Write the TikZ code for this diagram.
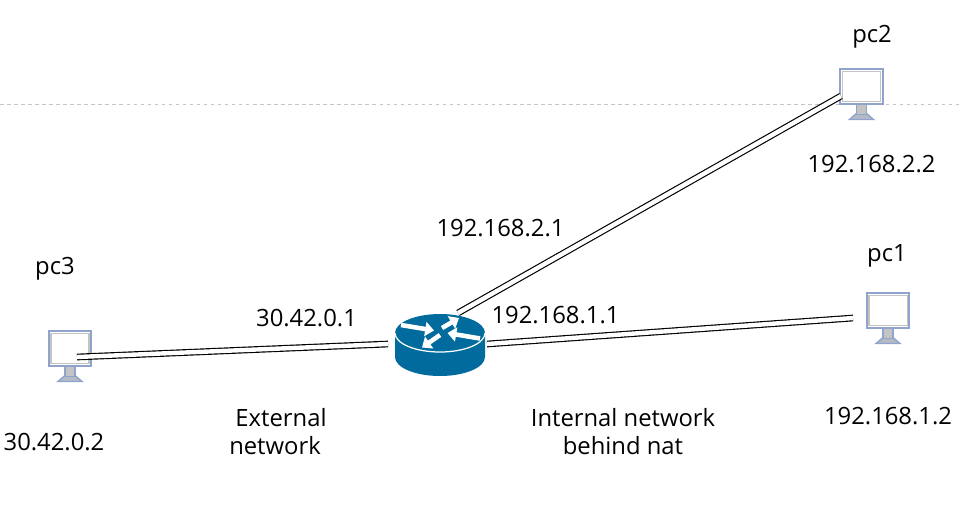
\documentclass[tikz,border=0pt]{standalone}
\usepackage{fontspec}
\setmainfont{Open Sans}
\usetikzlibrary{arrows.meta}
\definecolor{routerBlue}{HTML}{006B9C}
\definecolor{screenEdge}{HTML}{8FA3CC}
\definecolor{screenGray}{HTML}{C4C4C4}
\tikzset{caption/.style={font=\fontsize{13.55}{15.9}\selectfont, align=center, inner sep=0pt, text=black}}
\tikzset{link/.style={draw=black, line width=1.1pt*0.6, double=white, double distance=4.4*0.02cm}}
\tikzset{router-arrow/.style={-{Triangle[length=5pt,width=8pt]}, white, line width=2.6pt}}
\tikzset{pc-screen/.style={draw=screenEdge, line width=1.2pt, fill=white, inner sep=0pt, minimum width=0.85cm, minimum height=0.69cm}}
\tikzset{pc-part/.style={draw=screenEdge, line width=0.8pt, fill=screenGray}}
\tikzset{pc/.pic={
    \draw[pc-part, fill=screenGray!70!screenEdge] (-5,27) -- (5,27) -- (12,33) -- (-12,33) -- cycle;
    \draw[pc-part] (-5,17) rectangle (5,28);
    \node[pc-screen] (-screen) at (0,0) {};
    \draw[screenGray, line width=0.8pt] (-19.2,-15.2) rectangle (19.2,15.2);
}}

\begin{document}
\begin{tikzpicture}[x=0.02cm, y=-0.02cm]
    \useasboundingbox (0,0) rectangle (962,522);
    \draw[screenGray, dashed, dash pattern=on 2pt off 2pt, line width=0.4pt] (0,104) -- (962,104);

    \pic (pc1) at (888,310.5) {pc};
    \pic (pc2) at (861.5,86.5) {pc};

    \coordinate (pc1-port) at (853,318);
    \coordinate (pc2-port) at (841,96);
    \coordinate (pc3-port) at (77,357);
    \coordinate (router-left) at (388,344);
    \coordinate (router-right) at (487,344);
    \coordinate (router-top) at (458,313);

    \pic (pc3) at (70,348.5) {pc};

    \draw[link] (pc3-port) -- (router-left);
    \draw[link] (router-right) -- (pc1-port);
    \draw[link] (router-top) -- (pc2-port);

    % router
    \fill[routerBlue] (395,333) -- (395,357) arc[start angle=180, end angle=0, x radius=45, y radius=19]
        -- (485,333) arc[start angle=0, end angle=-180, x radius=45, y radius=19] -- cycle;
    \draw[white, line width=0.7pt] (395,333) arc[start angle=180, end angle=0, x radius=45, y radius=19];
    \coordinate (a1) at (401,325);  \coordinate (b1) at (434,330.5);
    \coordinate (a2) at (442,328); \coordinate (b2) at (459,318);
    \coordinate (a3) at (480,338.5);  \coordinate (b3) at (447.5,333);
    \coordinate (a4) at (440,335);    \coordinate (b4) at (422,347.5);
    \foreach \i in {1,2,3,4} {
        \draw[router-arrow] (a\i) -- (b\i);
    }

    \node[caption] (pc2-name) at (872,37) {pc2};
    \node[caption] (pc2-addr) at (871.5,164) {192.168.2.2};
    \node[caption] (pc1-name) at (887,256) {pc1};
    \node[caption] (pc1-addr) at (888,416) {192.168.1.2};
    \node[caption] (pc3-name) at (55,269) {pc3};
    \node[caption] (pc3-addr) at (54,442) {30.42.0.2};
    \node[caption] (router-addr2) at (500.5,228) {192.168.2.1};
    \node[caption] (router-addr1) at (555.5,315.5) {192.168.1.1};
    \node[caption] (router-addr3) at (306.5,318.5) {30.42.0.1};
    \node[caption] (external) at (275,432) {\hspace*{0.24cm}External\\network};
    \node[caption] (internal) at (623,432) {Internal network\\behind nat};
\end{tikzpicture}
\end{document}
